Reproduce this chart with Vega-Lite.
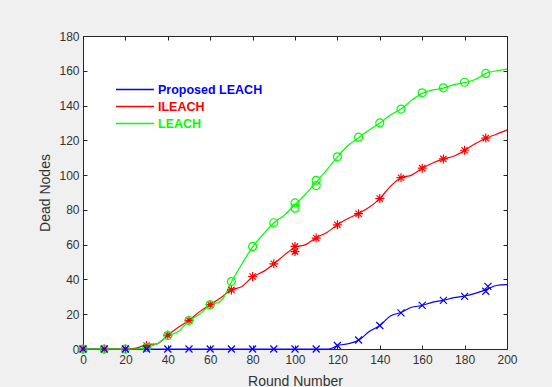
{
  "$schema": "https://vega.github.io/schema/vega-lite/v6.json",
  "autosize": "none",
  "width": 424,
  "height": 313,
  "padding": {"left": 83, "top": 36, "right": 45, "bottom": 38},
  "background": "#f0f0f0",
  "config": {
    "view": {"fill": "white", "stroke": "#262626", "strokeWidth": 1},
    "font": "Liberation Sans",
    "axis": {
      "grid": false,
      "domain": false,
      "tickSize": -4,
      "tickColor": "#262626",
      "labelColor": "#333333",
      "labelFont": "Liberation Sans",
      "labelFontSize": 12,
      "labelFlush": false,
      "titleFont": "Liberation Sans",
      "titleFontSize": 14,
      "titleFontWeight": "normal",
      "titleColor": "#333333"
    }
  },
  "datasets": {
    "lines": [
      {"series": "Proposed LEACH", "round": 0, "dead": 0},
      {"series": "Proposed LEACH", "round": 20, "dead": 0},
      {"series": "Proposed LEACH", "round": 40, "dead": 0},
      {"series": "Proposed LEACH", "round": 60, "dead": 0},
      {"series": "Proposed LEACH", "round": 80, "dead": 0},
      {"series": "Proposed LEACH", "round": 100, "dead": 0},
      {"series": "Proposed LEACH", "round": 115, "dead": 0},
      {"series": "Proposed LEACH", "round": 117, "dead": 0.3},
      {"series": "Proposed LEACH", "round": 120, "dead": 2},
      {"series": "Proposed LEACH", "round": 125, "dead": 3},
      {"series": "Proposed LEACH", "round": 130, "dead": 5},
      {"series": "Proposed LEACH", "round": 135, "dead": 10},
      {"series": "Proposed LEACH", "round": 140, "dead": 13.5},
      {"series": "Proposed LEACH", "round": 145, "dead": 19},
      {"series": "Proposed LEACH", "round": 150, "dead": 21},
      {"series": "Proposed LEACH", "round": 155, "dead": 24},
      {"series": "Proposed LEACH", "round": 160, "dead": 25},
      {"series": "Proposed LEACH", "round": 165, "dead": 27},
      {"series": "Proposed LEACH", "round": 170, "dead": 28},
      {"series": "Proposed LEACH", "round": 175, "dead": 29.5},
      {"series": "Proposed LEACH", "round": 180, "dead": 30.5},
      {"series": "Proposed LEACH", "round": 185, "dead": 32},
      {"series": "Proposed LEACH", "round": 190, "dead": 34},
      {"series": "Proposed LEACH", "round": 195, "dead": 36.5},
      {"series": "Proposed LEACH", "round": 200, "dead": 37},

      {"series": "ILEACH", "round": 0, "dead": 0},
      {"series": "ILEACH", "round": 10, "dead": 0},
      {"series": "ILEACH", "round": 20, "dead": 0},
      {"series": "ILEACH", "round": 25, "dead": 0.5},
      {"series": "ILEACH", "round": 30, "dead": 2.5},
      {"series": "ILEACH", "round": 35, "dead": 3},
      {"series": "ILEACH", "round": 40, "dead": 8},
      {"series": "ILEACH", "round": 45, "dead": 12.5},
      {"series": "ILEACH", "round": 50, "dead": 16.5},
      {"series": "ILEACH", "round": 55, "dead": 21.5},
      {"series": "ILEACH", "round": 60, "dead": 25.5},
      {"series": "ILEACH", "round": 65, "dead": 29.5},
      {"series": "ILEACH", "round": 70, "dead": 34},
      {"series": "ILEACH", "round": 75, "dead": 36},
      {"series": "ILEACH", "round": 80, "dead": 41.5},
      {"series": "ILEACH", "round": 85, "dead": 44.5},
      {"series": "ILEACH", "round": 90, "dead": 49},
      {"series": "ILEACH", "round": 95, "dead": 54},
      {"series": "ILEACH", "round": 100, "dead": 58.5},
      {"series": "ILEACH", "round": 105, "dead": 60},
      {"series": "ILEACH", "round": 110, "dead": 64},
      {"series": "ILEACH", "round": 115, "dead": 67},
      {"series": "ILEACH", "round": 120, "dead": 71.5},
      {"series": "ILEACH", "round": 125, "dead": 75},
      {"series": "ILEACH", "round": 130, "dead": 78},
      {"series": "ILEACH", "round": 135, "dead": 81.5},
      {"series": "ILEACH", "round": 140, "dead": 86.5},
      {"series": "ILEACH", "round": 145, "dead": 93.5},
      {"series": "ILEACH", "round": 150, "dead": 98.5},
      {"series": "ILEACH", "round": 155, "dead": 100},
      {"series": "ILEACH", "round": 160, "dead": 104},
      {"series": "ILEACH", "round": 165, "dead": 107},
      {"series": "ILEACH", "round": 170, "dead": 109.2},
      {"series": "ILEACH", "round": 175, "dead": 111},
      {"series": "ILEACH", "round": 180, "dead": 114.2},
      {"series": "ILEACH", "round": 185, "dead": 118},
      {"series": "ILEACH", "round": 190, "dead": 121.2},
      {"series": "ILEACH", "round": 195, "dead": 123.5},
      {"series": "ILEACH", "round": 200, "dead": 126},

      {"series": "LEACH", "round": 0, "dead": 0},
      {"series": "LEACH", "round": 10, "dead": 0},
      {"series": "LEACH", "round": 20, "dead": 0},
      {"series": "LEACH", "round": 25, "dead": 0},
      {"series": "LEACH", "round": 30, "dead": 0.8},
      {"series": "LEACH", "round": 35, "dead": 3},
      {"series": "LEACH", "round": 40, "dead": 7.5},
      {"series": "LEACH", "round": 45, "dead": 10},
      {"series": "LEACH", "round": 50, "dead": 16.2},
      {"series": "LEACH", "round": 55, "dead": 20},
      {"series": "LEACH", "round": 60, "dead": 25.2},
      {"series": "LEACH", "round": 65, "dead": 27.5},
      {"series": "LEACH", "round": 70, "dead": 38.5},
      {"series": "LEACH", "round": 75, "dead": 49},
      {"series": "LEACH", "round": 80, "dead": 58.7},
      {"series": "LEACH", "round": 85, "dead": 66},
      {"series": "LEACH", "round": 90, "dead": 72.5},
      {"series": "LEACH", "round": 95, "dead": 77},
      {"series": "LEACH", "round": 100, "dead": 83},
      {"series": "LEACH", "round": 105, "dead": 89},
      {"series": "LEACH", "round": 110, "dead": 96},
      {"series": "LEACH", "round": 115, "dead": 103},
      {"series": "LEACH", "round": 120, "dead": 110.5},
      {"series": "LEACH", "round": 125, "dead": 117},
      {"series": "LEACH", "round": 130, "dead": 121.5},
      {"series": "LEACH", "round": 135, "dead": 126},
      {"series": "LEACH", "round": 140, "dead": 130},
      {"series": "LEACH", "round": 145, "dead": 134.5},
      {"series": "LEACH", "round": 150, "dead": 138},
      {"series": "LEACH", "round": 155, "dead": 143},
      {"series": "LEACH", "round": 160, "dead": 147},
      {"series": "LEACH", "round": 165, "dead": 149},
      {"series": "LEACH", "round": 170, "dead": 150},
      {"series": "LEACH", "round": 175, "dead": 152},
      {"series": "LEACH", "round": 180, "dead": 153.2},
      {"series": "LEACH", "round": 185, "dead": 155},
      {"series": "LEACH", "round": 190, "dead": 158.5},
      {"series": "LEACH", "round": 195, "dead": 160},
      {"series": "LEACH", "round": 200, "dead": 161}
    ],
    "markersGreen": [
      {"round": 0, "dead": 0},
      {"round": 10, "dead": 0},
      {"round": 20, "dead": 0},
      {"round": 30, "dead": 0.8},
      {"round": 40, "dead": 7.7},
      {"round": 50, "dead": 16.4},
      {"round": 60, "dead": 25.4},
      {"round": 70, "dead": 38.8},
      {"round": 80, "dead": 59},
      {"round": 90, "dead": 72.6},
      {"round": 100, "dead": 81},
      {"round": 100, "dead": 84},
      {"round": 110, "dead": 94},
      {"round": 110, "dead": 97},
      {"round": 120, "dead": 110.5},
      {"round": 130, "dead": 121.8},
      {"round": 140, "dead": 130},
      {"round": 150, "dead": 138},
      {"round": 160, "dead": 147.3},
      {"round": 170, "dead": 150.2},
      {"round": 180, "dead": 153.4},
      {"round": 190, "dead": 158.5}
    ],
    "markersRed": [
      {"round": 0, "dead": 0},
      {"round": 10, "dead": 0},
      {"round": 20, "dead": 0},
      {"round": 30, "dead": 2},
      {"round": 40, "dead": 8},
      {"round": 50, "dead": 16.5},
      {"round": 60, "dead": 25.5},
      {"round": 70, "dead": 34},
      {"round": 80, "dead": 41.7},
      {"round": 90, "dead": 49},
      {"round": 100, "dead": 56},
      {"round": 100, "dead": 59},
      {"round": 110, "dead": 63.8},
      {"round": 120, "dead": 71.4},
      {"round": 130, "dead": 77.8},
      {"round": 140, "dead": 86.5},
      {"round": 150, "dead": 98.5},
      {"round": 160, "dead": 104},
      {"round": 170, "dead": 109.3},
      {"round": 180, "dead": 114.3},
      {"round": 190, "dead": 121.3}
    ],
    "markersBlue": [
      {"round": 0, "dead": 0},
      {"round": 10, "dead": 0},
      {"round": 20, "dead": 0},
      {"round": 30, "dead": 0},
      {"round": 40, "dead": 0},
      {"round": 50, "dead": 0},
      {"round": 60, "dead": 0},
      {"round": 70, "dead": 0},
      {"round": 80, "dead": 0},
      {"round": 90, "dead": 0},
      {"round": 100, "dead": 0},
      {"round": 110, "dead": 0},
      {"round": 120, "dead": 2},
      {"round": 130, "dead": 5.2},
      {"round": 140, "dead": 13.5},
      {"round": 150, "dead": 20.8},
      {"round": 160, "dead": 25.1},
      {"round": 170, "dead": 28},
      {"round": 180, "dead": 30.3},
      {"round": 190, "dead": 33.2},
      {"round": 191, "dead": 36}
    ]
  },
  "layer": [
    {
      "data": {"name": "lines"},
      "mark": {"type": "line", "interpolate": "monotone", "strokeWidth": 1.2},
      "encoding": {
        "x": {
          "field": "round", "type": "quantitative",
          "scale": {"domain": [0, 200], "nice": false, "zero": false},
          "axis": {"values": [0, 20, 40, 60, 80, 100, 120, 140, 160, 180, 200], "title": "Round Number", "labelPadding": 9, "titlePadding": 9}
        },
        "y": {
          "field": "dead", "type": "quantitative",
          "scale": {"domain": [0, 180], "nice": false},
          "axis": {"values": [0, 20, 40, 60, 80, 100, 120, 140, 160, 180], "title": "Dead Nodes", "labelPadding": 8, "titlePadding": 6}
        },
        "color": {
          "field": "series", "type": "nominal",
          "scale": {"domain": ["Proposed LEACH", "ILEACH", "LEACH"], "range": ["#0000ff", "#ff0000", "#00ff00"]},
          "legend": {
            "orient": "none",
            "legendX": 32,
            "legendY": 47,
            "title": null,
            "padding": 0,
            "symbolType": "stroke",
            "symbolSize": 1444,
            "symbolStrokeWidth": 1.3,
            "clipHeight": 13,
            "rowPadding": 4,
            "labelOffset": 3,
            "labelFont": "Liberation Sans",
            "labelFontSize": 12.5,
            "labelFontWeight": "bold",
            "encode": {"labels": {"update": {"fill": {"scale": "color", "field": "value"}}}}
          }
        },
        "detail": {"field": "series"}
      }
    },
    {
      "data": {"name": "markersRed"},
      "mark": {"type": "point", "filled": false, "strokeWidth": 1.2, "opacity": 1, "color": "#ff0000", "size": 81, "shape": "M-1,0L1,0M0,-1L0,1M-0.7,-0.7L0.7,0.7M-0.7,0.7L0.7,-0.7"},
      "encoding": {
        "x": {"field": "round", "type": "quantitative", "axis": null},
        "y": {"field": "dead", "type": "quantitative", "axis": null}
      }
    },
    {
      "data": {"name": "markersGreen"},
      "mark": {"type": "point", "filled": false, "strokeWidth": 1.2, "opacity": 1, "color": "#00ff00", "size": 64, "shape": "circle"},
      "encoding": {
        "x": {"field": "round", "type": "quantitative", "axis": null},
        "y": {"field": "dead", "type": "quantitative", "axis": null}
      }
    },
    {
      "data": {"name": "markersBlue"},
      "mark": {"type": "point", "filled": false, "strokeWidth": 1.2, "opacity": 1, "color": "#0000ff", "size": 49, "shape": "M-1,-1L1,1M-1,1L1,-1"},
      "encoding": {
        "x": {
          "field": "round", "type": "quantitative",
          "axis": {"orient": "top", "values": [0, 20, 40, 60, 80, 100, 120, 140, 160, 180, 200], "labels": false, "title": null}
        },
        "y": {
          "field": "dead", "type": "quantitative",
          "axis": {"orient": "right", "values": [0, 20, 40, 60, 80, 100, 120, 140, 160, 180], "labels": false, "title": null}
        }
      }
    }
  ],
  "resolve": {"axis": {"x": "independent", "y": "independent"}}
}
